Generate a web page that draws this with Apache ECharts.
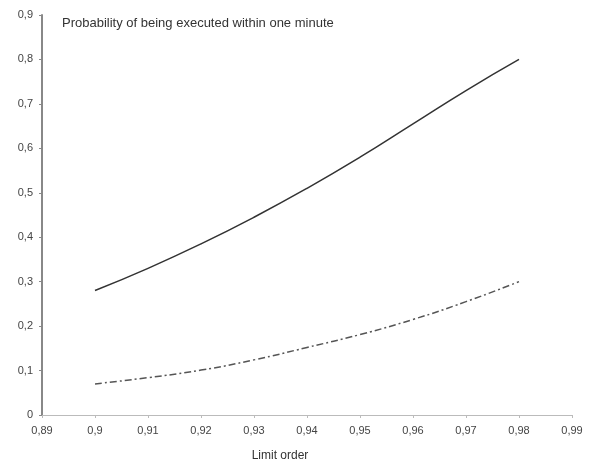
<!DOCTYPE html>
<html>
<head>
<meta charset="utf-8">
<script src="https://cdn.jsdelivr.net/npm/echarts@6/dist/echarts.min.js"></script>
<style>
  html, body { margin: 0; padding: 0; background: #fff; }
  #chart { width: 594px; height: 474px; }
</style>
</head>
<body>
<div id="chart"></div>
<script>
// limit order levels
const limitOrders = [0.9, 0.91, 0.92, 0.93, 0.94, 0.95, 0.96, 0.97, 0.98];
// probability, solid line
const probUpper = [0.28, 0.33, 0.385, 0.445, 0.51, 0.58, 0.655, 0.73, 0.80];
// probability, dash-dot line
const probLower = [0.07, 0.084, 0.101, 0.124, 0.152, 0.181, 0.215, 0.255, 0.30];

const fmt = (v) => String(Math.round(v * 100) / 100).replace(".", ",");

const chart = echarts.init(document.getElementById("chart"));

const options = {
  animation: false,
  textStyle: { fontFamily: "Liberation Sans, Arial, sans-serif" },
  title: {
    text: "Probability of being executed within one minute",
    left: 57,
    top: 12,
    textStyle: { fontSize: 13, fontWeight: "normal", color: "#333" },
  },
  grid: { left: 42, right: 22, top: 15, bottom: 59 },
  xAxis: {
    type: "value",
    min: 0.89,
    max: 0.99,
    interval: 0.01,
    name: "Limit order",
    nameLocation: "middle",
    nameGap: 35,
    nameTextStyle: { fontSize: 12, color: "#333", padding: [0, 54, 0, 0] },
    axisLine: { lineStyle: { color: "#bbb", width: 1 } },
    axisTick: { show: true, length: 3, lineStyle: { color: "#bbb" } },
    axisLabel: { fontSize: 11, color: "#444", margin: 10, formatter: fmt },
    splitLine: { show: false },
  },
  yAxis: {
    type: "value",
    min: 0,
    max: 0.9,
    interval: 0.1,
    axisLine: { show: true, lineStyle: { color: "#888", width: 2 } },
    axisTick: { show: true, length: 3, lineStyle: { color: "#888" } },
    axisLabel: { fontSize: 11, color: "#444", margin: 9, formatter: fmt },
    splitLine: { show: false },
  },
  series: [
    {
      name: "upper",
      type: "line",
      smooth: true,
      symbol: "none",
      lineStyle: { color: "#333", width: 1.5 },
      data: limitOrders.map((x, i) => [x, probUpper[i]]),
    },
    {
      name: "lower",
      type: "line",
      smooth: true,
      symbol: "none",
      lineStyle: { color: "#555", width: 1.5, type: [7, 3, 2, 3] },
      data: limitOrders.map((x, i) => [x, probLower[i]]),
    },
  ],
};

chart.setOption(options);
</script>
</body>
</html>
